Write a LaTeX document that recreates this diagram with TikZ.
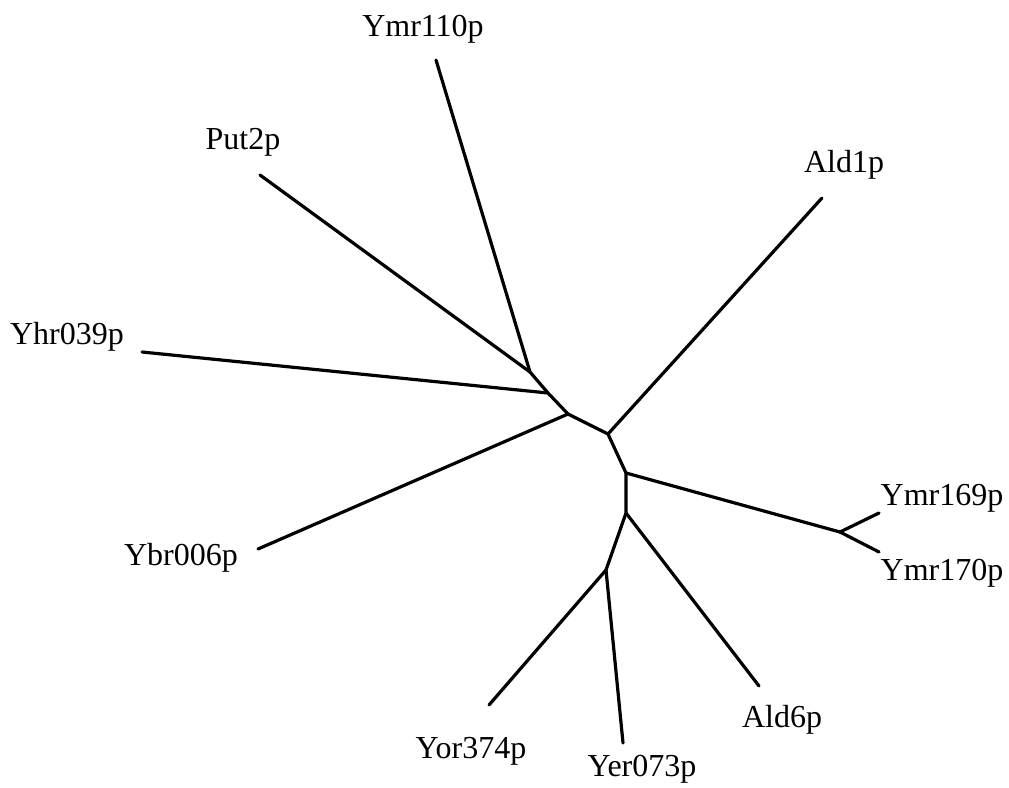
\documentclass[tikz,border=0pt]{standalone}
\usepackage{fontspec}
\setmainfont{Liberation Serif}
\begin{document}
\begin{tikzpicture}[x=1pt,y=-1pt,
  branch/.style={line width=3.2pt,line cap=round,line join=round},
  lbl/.style={anchor=base,inner sep=0pt,font=\fontsize{32}{38}\selectfont}]
\useasboundingbox (0,0) rectangle (1009,787);
% internal nodes
\coordinate (n1) at (530,372);
\coordinate (n2) at (548,393);
\coordinate (n3) at (568,414);
\coordinate (n4) at (608,434);
\coordinate (n5) at (626,473);
\coordinate (n6) at (626,513);
\coordinate (n7) at (606,570);
\coordinate (n8) at (840,532);
% leaves
\coordinate (lYmr110) at (436,60);
\coordinate (lPut2) at (260,175);
\coordinate (lYhr039) at (142,352);
\coordinate (lYbr006) at (258,549);
\coordinate (lAld1) at (822,198);
\coordinate (lYmr169) at (879,513);
\coordinate (lYmr170) at (879,552);
\coordinate (lAld6) at (759,686);
\coordinate (lYor374) at (489,705);
\coordinate (lYer073) at (623,743);
% labels
\node[lbl] (tYmr110) at (423,36) {Ymr110p};
\node[lbl] (tPut2) at (243,149) {Put2p};
\node[lbl] (tYhr039) at (67,344) {Yhr039p};
\node[lbl] (tYbr006) at (181,565) {Ybr006p};
\node[lbl] (tAld1) at (844,172) {Ald1p};
\node[lbl] (tYmr169) at (942,505) {Ymr169p};
\node[lbl] (tYmr170) at (942,580) {Ymr170p};
\node[lbl] (tAld6) at (782,727) {Ald6p};
\node[lbl] (tYor374) at (471,758) {Yor374p};
\node[lbl] (tYer073) at (642,776) {Yer073p};
% branches
\draw[branch] (lYmr110) -- (n1);
\draw[branch] (lPut2) -- (n1);
\draw[branch] (n1) -- (n2) -- (n3) -- (n4) -- (n5) -- (n6) -- (n7);
\draw[branch] (lYhr039) -- (n2);
\draw[branch] (lYbr006) -- (n3);
\draw[branch] (lAld1) -- (n4);
\draw[branch] (n5) -- (n8);
\draw[branch] (n8) -- (lYmr169);
\draw[branch] (n8) -- (lYmr170);
\draw[branch] (n6) -- (lAld6);
\draw[branch] (n7) -- (lYor374);
\draw[branch] (n7) -- (lYer073);
\end{tikzpicture}
\end{document}
